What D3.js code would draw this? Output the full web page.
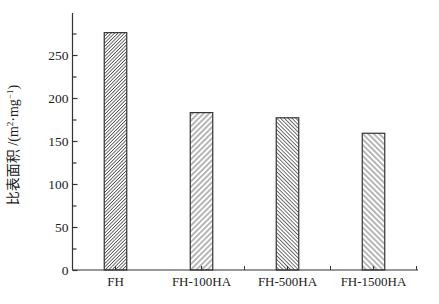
<!DOCTYPE html>
<html>
<head>
<meta charset="utf-8">
<script src="https://cdn.jsdelivr.net/npm/d3@7"></script>
<style>
  body { margin: 0; background: #fff; }
  text { font-family: "Liberation Serif", "DejaVu Serif", serif; fill: #222; }
</style>
</head>
<body>
<div id="chart"></div>
<script>
// Data
const categories = ["FH", "FH-100HA", "FH-500HA", "FH-1500HA"];
const values = [276, 183, 177, 159];
const yTicks = [0, 50, 100, 150, 200, 250];
const yMinorTicks = [25, 75, 125, 175, 225, 275];

// Hatch style per bar: angle and line spacing
const hatch = [
  { angle: 45, gap: 2.4 },
  { angle: 45, gap: 3.9 },
  { angle: -45, gap: 2.7 },
  { angle: -45, gap: 3.9 }
];

const width = 439, height = 304;
const plot = { left: 72.5, right: 416.5, top: 12, bottom: 270 };

const svg = d3.select("#chart").append("svg")
  .attr("width", width)
  .attr("height", height);

const x = d3.scaleBand().domain(categories).range([plot.left, plot.right]).padding(0);
const y = d3.scaleLinear().domain([0, 300]).range([plot.bottom, plot.top]);
const barW = 22.5;

// hatch patterns
const defs = svg.append("defs");
hatch.forEach((h, i) => {
  const p = defs.append("pattern")
    .attr("id", "hatch" + i)
    .attr("patternUnits", "userSpaceOnUse")
    .attr("width", h.gap)
    .attr("height", h.gap)
    .attr("patternTransform", `rotate(${h.angle})`);
  p.append("rect").attr("width", h.gap).attr("height", h.gap).attr("fill", "#fff");
  p.append("line")
    .attr("x1", h.gap / 2).attr("x2", h.gap / 2)
    .attr("y1", 0).attr("y2", h.gap)
    .attr("stroke", "#4a4a4a")
    .attr("stroke-width", 0.8);
});

// bars
svg.append("g").selectAll("rect")
  .data(values)
  .join("rect")
  .attr("x", (d, i) => x(categories[i]) + x.bandwidth() / 2 - barW / 2)
  .attr("y", d => y(d))
  .attr("width", barW)
  .attr("height", d => y(0) - y(d))
  .attr("fill", (d, i) => `url(#hatch${i})`)
  .attr("stroke", "#333")
  .attr("stroke-width", 1.2);

// y axis (ticks pointing inward)
const yAxis = svg.append("g")
  .attr("transform", `translate(${plot.left},0)`)
  .call(d3.axisLeft(y).tickValues(yTicks).tickSize(-5).tickPadding(4));
yAxis.select(".domain").attr("d", `M0,${y(0)}V${plot.top + 1}`);
yAxis.selectAll("text").style("font-size", "13.5px");

svg.append("g")
  .attr("transform", `translate(${plot.left},0)`)
  .call(d3.axisLeft(y).tickValues(yMinorTicks).tickSize(-4).tickFormat(""))
  .call(g => g.select(".domain").remove());

// x axis
const xAxis = svg.append("g")
  .attr("transform", `translate(0,${plot.bottom})`)
  .call(d3.axisBottom(x).tickSize(-4).tickPadding(7));
xAxis.select(".domain").attr("d", `M${plot.left},0H${plot.right + 1.5}`);
xAxis.selectAll("text").style("font-size", "13px");

// small ticks between groups (none between the first two in the original)
const mids = categories.slice(2).map(c => x(c)).concat([plot.right]);
svg.append("g").selectAll("line")
  .data(mids)
  .join("line")
  .attr("x1", d => d).attr("x2", d => d)
  .attr("y1", plot.bottom).attr("y2", plot.bottom - 4)
  .attr("stroke", "#333");

svg.selectAll(".domain, .tick line").attr("stroke", "#333").attr("stroke-width", 1.2);

// y label
svg.append("text")
  .attr("transform", `translate(18,${(plot.top + plot.bottom) / 2 + 4}) rotate(-90)`)
  .attr("text-anchor", "middle")
  .style("font-size", "14px")
  .html('<tspan style="font-family:\'Noto Sans CJK SC\'">比表面积</tspan> /(m<tspan dy="-5" font-size="9">2</tspan><tspan dy="5">·mg</tspan><tspan dy="-5" font-size="9">−1</tspan><tspan dy="5">)</tspan>');
</script>
</body>
</html>
